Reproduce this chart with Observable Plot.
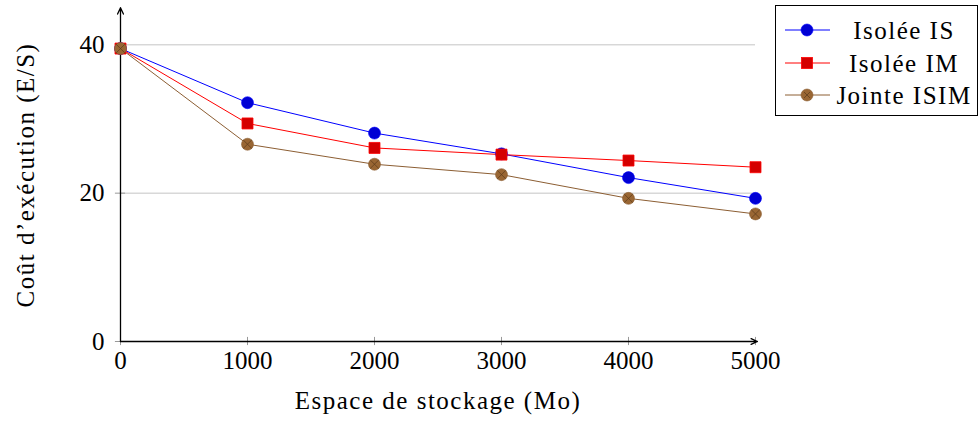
<!DOCTYPE html>
<html>
<head>
<meta charset="utf-8">
<script src="https://cdn.jsdelivr.net/npm/d3@7"></script>
<script src="https://cdn.jsdelivr.net/npm/@observablehq/plot@0.6"></script>
<style>
  html, body { margin: 0; padding: 0; background: white; }
  .axis-label-wide [aria-label="x-axis label"] text,
  .axis-label-wide [aria-label="y-axis label"] text { letter-spacing: 1.5px; }
</style>
</head>
<body>
<div id="chart" class="axis-label-wide"></div>
<script>
const storage = [0, 1000, 2000, 3000, 4000, 5000];
const isoleeIS = [39.5, 32.2, 28.1, 25.3, 22.1, 19.3];
const isoleeIM = [39.5, 29.4, 26.1, 25.2, 24.4, 23.5];
const jointeISIM = [39.5, 26.6, 23.9, 22.5, 19.3, 17.2];
const seriesNames = ["Isolée IS", "Isolée IM", "Jointe ISIM"];
const xTicks = [0, 1000, 2000, 3000, 4000, 5000];
const yTicks = [0, 20, 40];
const yGrid = [20, 40];

const lineColors = ["#0000ff", "#ff0000", "#8c5e33"];
const fillColors = ["#0000d4", "#d40000", "#996633"];

const rows = [];
[isoleeIS, isoleeIM, jointeISIM].forEach((vals, i) => {
  vals.forEach((v, j) => rows.push({series: seriesNames[i], x: storage[j], y: v}));
});
const bySeries = name => rows.filter(d => d.series === name);
const axisArrows = [
  {x1: 0, y1: 0, x2: 0, y2: 45},
  {x1: 0, y1: 0, x2: 5015, y2: 0}
];

const chart = Plot.plot({
  width: 979,
  height: 421,
  marginLeft: 120,
  marginRight: 224,
  marginTop: 8,
  marginBottom: 80,
  x: {domain: [0, 5000]},
  y: {domain: [0, 44.9]},
  style: {fontFamily: "'Liberation Serif', serif", fontSize: "25px", color: "black", background: "white"},
  marks: [
    Plot.gridY(yGrid, {stroke: "#c4c4c4", strokeOpacity: 1}),
    Plot.ruleX(xTicks, {y1: -0.55, y2: 0.55, stroke: "#999"}),
    Plot.ruleY(yTicks, {x1: -40, x2: 40, stroke: "#999"}),
    Plot.arrow(axisArrows, {x1: "x1", y1: "y1", x2: "x2", y2: "y2", stroke: "black", strokeWidth: 1.3, headLength: 8, headAngle: 50}),
    Plot.line(bySeries(seriesNames[0]), {x: "x", y: "y", stroke: lineColors[0], strokeWidth: 1}),
    Plot.line(bySeries(seriesNames[1]), {x: "x", y: "y", stroke: lineColors[1], strokeWidth: 1}),
    Plot.line(bySeries(seriesNames[2]), {x: "x", y: "y", stroke: lineColors[2], strokeWidth: 1}),
    Plot.dot(bySeries(seriesNames[0]), {x: "x", y: "y", r: 6, fill: fillColors[0], stroke: lineColors[0], strokeWidth: 0.6}),
    Plot.dot(bySeries(seriesNames[1]), {x: "x", y: "y", r: 6.2, symbol: "square", fill: fillColors[1], stroke: lineColors[1], strokeWidth: 0.8}),
    Plot.dot(bySeries(seriesNames[2]), {x: "x", y: "y", r: 6, fill: fillColors[2], stroke: lineColors[2], strokeWidth: 0.6}),
    Plot.dot(bySeries(seriesNames[2]), {x: "x", y: "y", r: 4, symbol: "times", stroke: "#5a3a1a", strokeWidth: 0.7}),
    Plot.axisX({ticks: xTicks, tickFormat: d => String(d), tickSize: 0, tickPadding: 10, label: "Espace de stockage (Mo)", labelAnchor: "center", labelOffset: 67, labelArrow: "none", ariaLabel: "x-axis"}),
    Plot.axisY({ticks: yTicks, tickFormat: d => String(d), tickSize: 0, tickPadding: 16, label: "Coût d’exécution (E/S)", labelAnchor: "center", labelOffset: 104, labelArrow: "none", ariaLabel: "y-axis"})
  ]
});
document.getElementById("chart").appendChild(chart);

// widen axis labels slightly to mimic Computer Modern metrics
d3.select(chart).selectAll("text").filter(function() {
  const t = this.textContent;
  return t === "Espace de stockage (Mo)" || t === "Coût d’exécution (E/S)";
}).attr("letter-spacing", "1.5px");

// Legend drawn inside the SVG on the right
const svg = d3.select(chart);
const lg = svg.append("g").attr("font-family", "'Liberation Serif', serif").attr("font-size", 25);
lg.append("rect").attr("x", 775.5).attr("y", 5.5).attr("width", 202).attr("height", 110)
  .attr("fill", "white").attr("stroke", "black").attr("stroke-width", 1);
const rowY = [30, 63, 95];
seriesNames.forEach((name, i) => {
  const y = rowY[i];
  lg.append("line").attr("x1", 785).attr("x2", 830).attr("y1", y).attr("y2", y)
    .attr("stroke", lineColors[i]).attr("stroke-width", 1);
  if (i === 1) {
    lg.append("rect").attr("x", 807 - 5.5).attr("y", y - 5.5).attr("width", 11).attr("height", 11)
      .attr("fill", fillColors[i]).attr("stroke", lineColors[i]).attr("stroke-width", 0.8);
  } else {
    lg.append("circle").attr("cx", 807).attr("cy", y).attr("r", 6)
      .attr("fill", fillColors[i]).attr("stroke", lineColors[i]).attr("stroke-width", 0.6);
    if (i === 2) {
      lg.append("path").attr("d", `M${807-3},${y-3}L${807+3},${y+3}M${807-3},${y+3}L${807+3},${y-3}`)
        .attr("stroke", "#5a3a1a").attr("stroke-width", 0.7);
    }
  }
  lg.append("text").attr("x", 904).attr("y", y).attr("dy", "0.35em").attr("text-anchor", "middle")
    .attr("letter-spacing", "1.5px").attr("fill", "black").text(name);
});
</script>
</body>
</html>
